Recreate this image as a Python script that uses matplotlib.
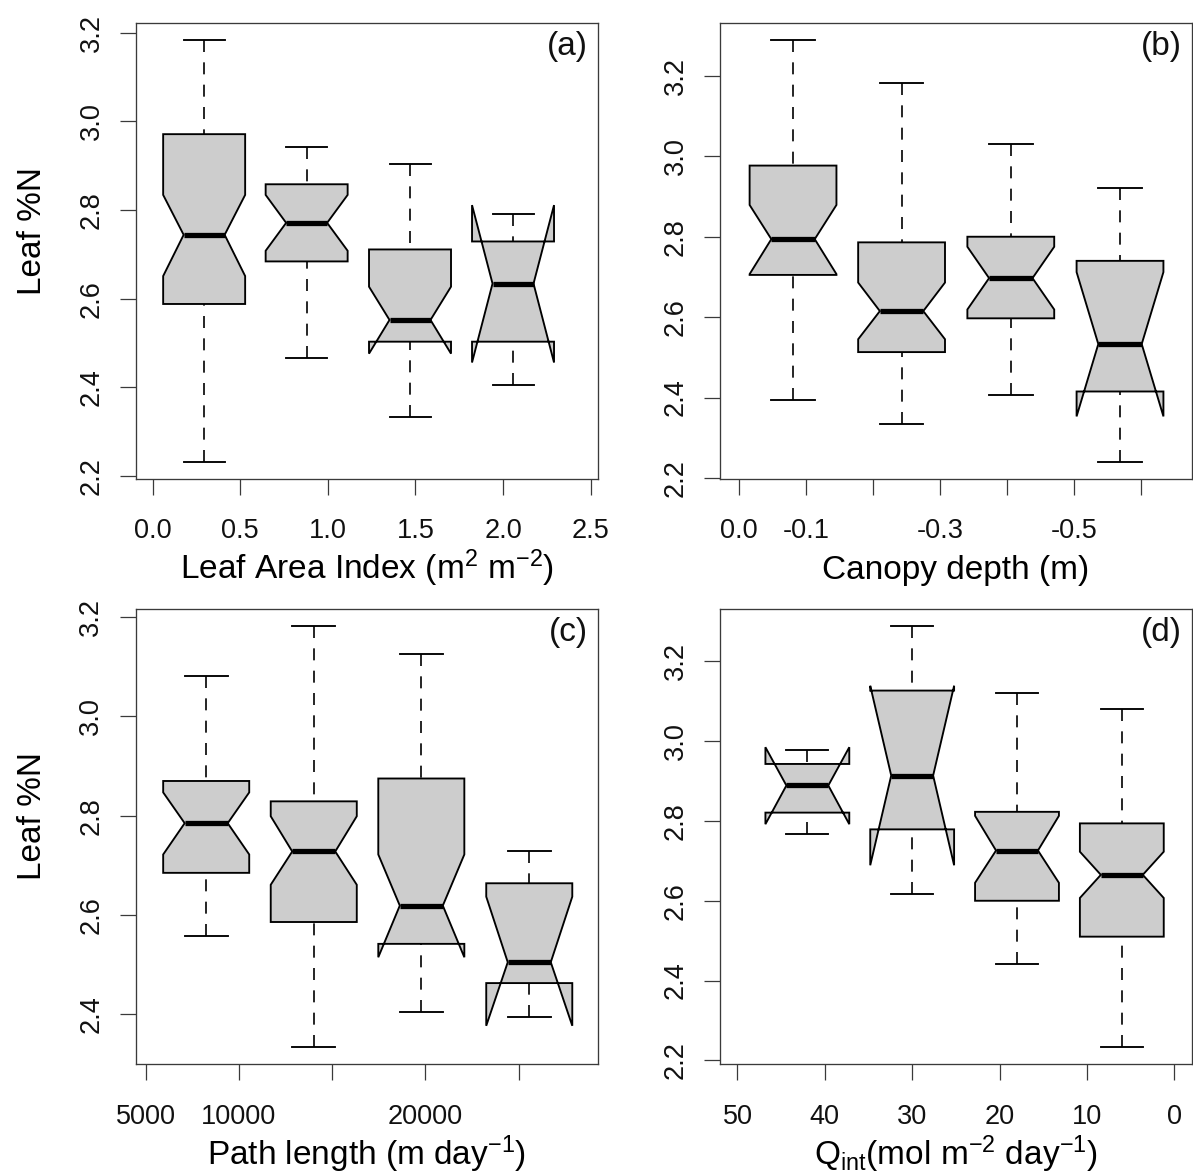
import matplotlib
matplotlib.use("Agg")
import matplotlib.pyplot as plt

plt.rcParams['font.family'] = ['Liberation Sans', 'DejaVu Sans']
plt.rcParams['mathtext.fontset'] = 'custom'
plt.rcParams['mathtext.rm'] = 'Liberation Sans'
plt.rcParams['mathtext.it'] = 'Liberation Sans:italic'
plt.rcParams['mathtext.bf'] = 'Liberation Sans:bold'

# Box summaries, one row per class:
# (lower whisker, Q1, median, Q3, upper whisker, notch low, notch high)
lai_stats = [
    (2.232, 2.588, 2.744, 2.971, 3.183, 2.651, 2.834),
    (2.467, 2.684, 2.771, 2.858, 2.941, 2.708, 2.834),
    (2.334, 2.503, 2.552, 2.711, 2.903, 2.476, 2.627),
    (2.405, 2.503, 2.634, 2.729, 2.792, 2.456, 2.811),
]
depth_stats = [
    (2.394, 2.705, 2.794, 2.977, 3.289, 2.707, 2.879),
    (2.335, 2.513, 2.615, 2.786, 3.183, 2.545, 2.686),
    (2.406, 2.597, 2.697, 2.800, 3.030, 2.619, 2.775),
    (2.240, 2.415, 2.533, 2.740, 2.921, 2.353, 2.712),
]
path_stats = [
    (2.557, 2.685, 2.785, 2.870, 3.081, 2.722, 2.847),
    (2.334, 2.586, 2.728, 2.829, 3.183, 2.661, 2.799),
    (2.405, 2.542, 2.619, 2.875, 3.126, 2.515, 2.722),
    (2.394, 2.463, 2.505, 2.664, 2.728, 2.377, 2.637),
]
qint_stats = [
    (2.768, 2.821, 2.889, 2.943, 2.979, 2.792, 2.985),
    (2.616, 2.779, 2.914, 3.127, 3.290, 2.689, 3.139),
    (2.441, 2.600, 2.726, 2.823, 3.120, 2.645, 2.813),
    (2.233, 2.510, 2.665, 2.794, 3.082, 2.607, 2.723),
]

# Class centres on each x scale
lai_centres = [0.294, 0.879, 1.469, 2.057]
depth_centres = [-0.081, -0.243, -0.406, -0.569]
path_centres = [8246, 14012, 19778, 25565]
qint_centres = [42, 30, 18, 6]

# Axis ticks and labels
lai_ticks = [0.0, 0.5, 1.0, 1.5, 2.0, 2.5]
lai_ticklabels = ["0.0", "0.5", "1.0", "1.5", "2.0", "2.5"]
depth_ticks = [0.0, -0.1, -0.2, -0.3, -0.4, -0.5, -0.6]
depth_ticklabels = ["0.0", "-0.1", "", "-0.3", "", "-0.5", ""]
path_ticks = [5000, 10000, 15000, 20000, 25000]
path_ticklabels = ["5000", "10000", "", "20000", ""]
qint_ticks = [50, 40, 30, 20, 10, 0]
qint_ticklabels = ["50", "40", "30", "20", "10", "0"]

FILL = "#cdcdcd"
FRAME = "#3a3a3a"
W, H = 1193, 1175
DPI = 100

fig = plt.figure(figsize=(W / DPI, H / DPI), dpi=DPI)


def add_axes_px(left, top, right, bottom):
    return fig.add_axes([left / W, 1 - bottom / H, (right - left) / W, (bottom - top) / H])


def draw_panel(ax, rows, centres, xlim, xticks, xticklabels, xlabel, tag, ylabel=None):
    keys = ("whislo", "q1", "med", "q3", "whishi", "cilo", "cihi")
    stats = [dict(zip(keys, r)) for r in rows]
    spacing = abs(centres[1] - centres[0])
    out = ax.bxp(
        stats, centres, widths=0.8 * spacing, shownotches=True, patch_artist=True,
        showfliers=False, manage_ticks=False,
        boxprops=dict(facecolor=FILL, edgecolor="black", linewidth=1.35, joinstyle="miter"),
        medianprops=dict(color="black", linewidth=3.8, solid_capstyle="butt"),
        whiskerprops=dict(color="black", linewidth=1.2, linestyle=(0, (7.2, 6.2))),
        capprops=dict(color="black", linewidth=1.35),
    )
    # dashes start at the staple end, as in R's bxp
    for wl in out["whiskers"]:
        wl.set_data(wl.get_xdata()[::-1], wl.get_ydata()[::-1])

    lo = min(r[0] for r in rows)
    hi = max(r[4] for r in rows)
    pad = 0.04 * (hi - lo)
    ax.set_ylim(lo - pad, hi + pad)
    ax.set_xlim(*xlim)

    yt = [v / 10 for v in range(22, 33, 2) if lo - pad <= v / 10 <= hi + pad]
    ax.set_yticks(yt)
    ax.set_yticklabels([f"{v:.1f}" for v in yt])
    ax.set_xticks(xticks)
    ax.set_xticklabels(xticklabels)

    ax.tick_params(axis="both", direction="out", length=11.5, width=0.9,
                   color=FRAME, labelsize=19.5, labelcolor="#111111")
    ax.tick_params(axis="x", pad=17)
    ax.tick_params(axis="y", pad=11, labelrotation=90)
    for lab in ax.get_yticklabels():
        lab.set_va("center")
    for s in ax.spines.values():
        s.set_color(FRAME)
        s.set_linewidth(0.95)

    ax.set_xlabel(xlabel, fontsize=24, va="baseline")
    ax.xaxis.set_label_coords(0.5, -0.221)
    if ylabel:
        ax.set_ylabel(ylabel, fontsize=24, va="baseline")
        ax.yaxis.set_label_coords(-0.205, 0.545)

    bb = ax.get_position()
    wpx, hpx = bb.width * W, bb.height * H
    ax.text(1 - 10 / wpx, 1 - 8 / hpx, tag, transform=ax.transAxes,
            ha="right", va="top", fontsize=24, color="#111111")


ax_a = add_axes_px(136, 23.3, 598, 478.7)
ax_b = add_axes_px(720, 23.3, 1191.7, 478.7)
ax_c = add_axes_px(135.5, 608.7, 598, 1064)
ax_d = add_axes_px(720, 608.7, 1191.7, 1064)

draw_panel(ax_a, lai_stats, lai_centres, (-0.095, 2.542), lai_ticks, lai_ticklabels,
           r"Leaf Area Index (m$^{\mathregular{2}}$ m$^{\mathregular{-2}}$)", "(a)", "Leaf %N")
draw_panel(ax_b, depth_stats, depth_centres, (0.028, -0.676), depth_ticks, depth_ticklabels,
           "Canopy depth (m)", "(b)")
draw_panel(ax_c, path_stats, path_centres, (4456, 29250), path_ticks, path_ticklabels,
           r"Path length (m day$^{\mathregular{-1}}$)", "(c)", "Leaf %N")
draw_panel(ax_d, qint_stats, qint_centres, (52.0, -2.0), qint_ticks, qint_ticklabels,
           r"Q$_{\mathregular{int}}$(mol m$^{\mathregular{-2}}$ day$^{\mathregular{-1}}$)", "(d)")

fig.savefig("out.png", dpi=DPI)
